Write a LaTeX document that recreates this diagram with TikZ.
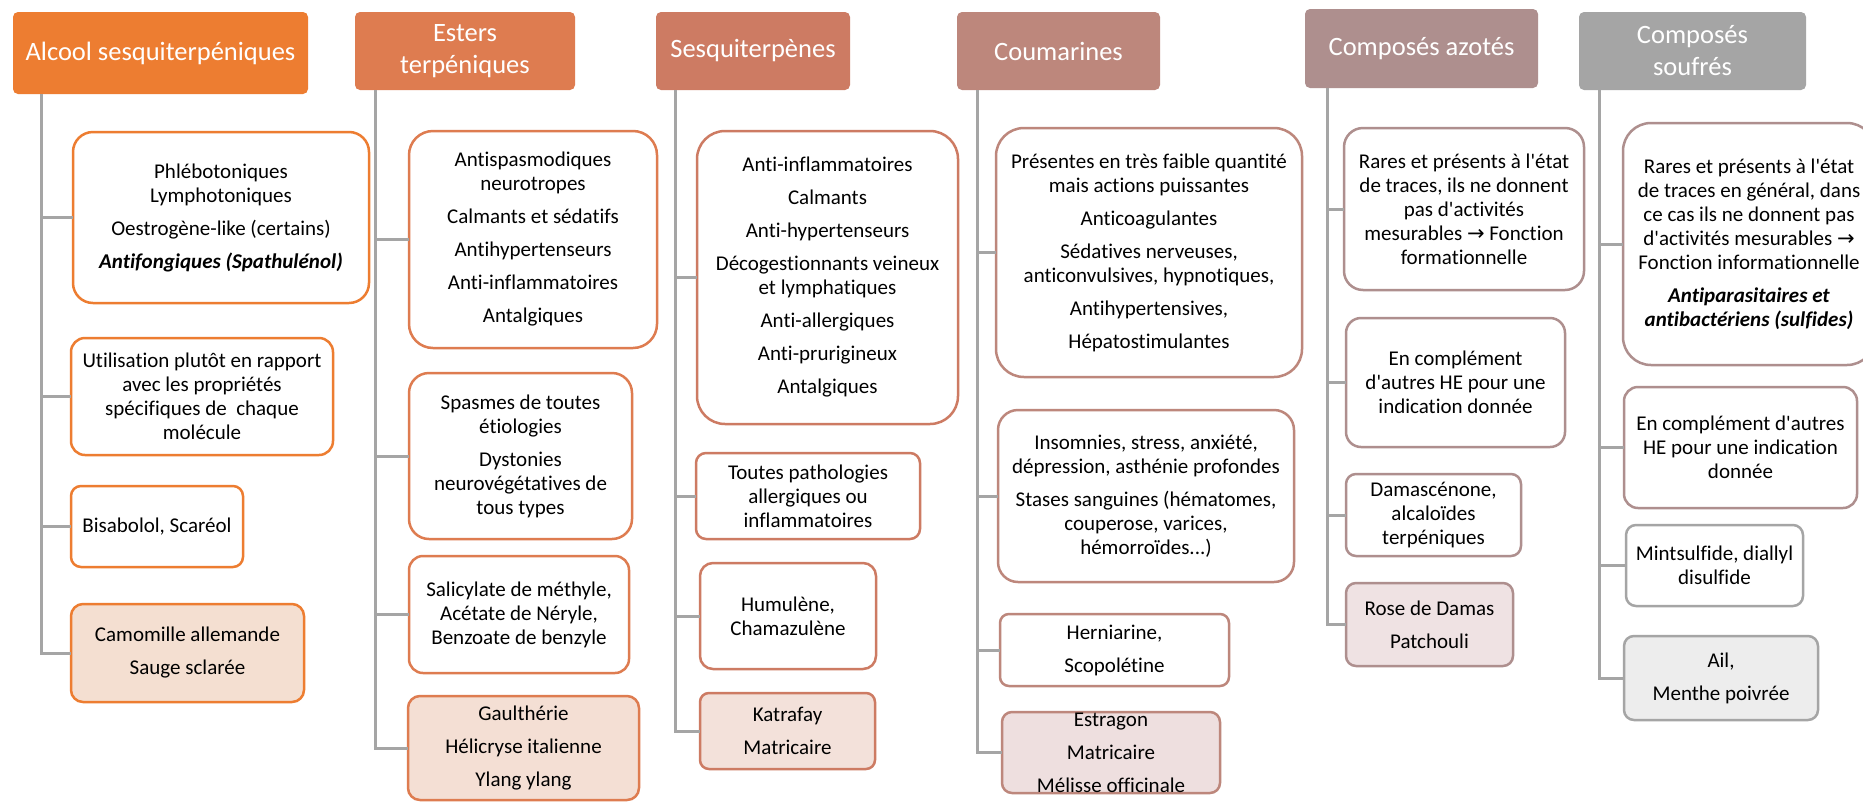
\documentclass[tikz,border=0pt]{standalone}
\usepackage{fontspec}
\newfontfamily\calib{Carlito}[Ligatures=CommonOff]
\newfontfamily\arw{DejaVu Sans}
\definecolor{cA}{HTML}{ED7D31}
\definecolor{cB}{HTML}{DE7C50}
\definecolor{cC}{HTML}{CD7B63}
\definecolor{cD}{HTML}{BD877C}
\definecolor{cE}{HTML}{AE8F8E}
\definecolor{cF}{HTML}{A5A5A5}
\definecolor{fA}{HTML}{F4DFD1}
\definecolor{fB}{HTML}{F4DFD4}
\definecolor{fC}{HTML}{F3E1DA}
\definecolor{fD}{HTML}{EEDFDF}
\definecolor{fE}{HTML}{EFE2E3}
\definecolor{fF}{HTML}{EDEDED}
\definecolor{linegray}{HTML}{A5A5A5}
\tikzset{
  hdr/.style={fill=#1, rounded corners=5pt, text=white, font=\calib\fontsize{26.5}{32}\selectfont, align=center, inner sep=0pt, outer sep=0pt},
  box/.style={draw=#1, line width=2.5pt, fill=white, align=center, inner sep=0pt, outer sep=0pt, font=\calib\fontsize{21}{24}\selectfont},
  txt/.style={align=center, inner sep=0pt, font=\calib\fontsize{21}{24}\selectfont},
  conn/.style={draw=linegray, line width=3pt},
  sz/.style 2 args={minimum width=#1pt, minimum height=#2pt},
}
\newcommand\ra{{\arw →}}
\newcommand\gp{\\[9pt]}
\begin{document}
\begin{tikzpicture}[x=1pt,y=-1pt]
\fill[white] (0,0) rectangle (1863,801);
\useasboundingbox (0,0) rectangle (1863,801);

% headers
\node[hdr=cA, sz={295}{82}] (h1) at (160.5,53) {Alcool sesquiterpéniques};
\node[hdr=cB, sz={220}{78}] (h2) at (465,51) {Esters\\terpéniques};
\node[hdr=cC, sz={194}{78}] (h3) at (753,51) {Sesquiterpènes};
\node[hdr=cD, sz={203}{78}] (h4) at (1058.5,51) {Coumarines};
\node[hdr=cE, sz={233}{79}] (h5) at (1421.5,48.5) {Composés azotés};
\node[hdr=cF, sz={227}{78}] (h6) at (1692.5,51) {Composés\\soufrés};

% column A
\node[box=cA, sz={296}{171}, rounded corners=20pt] (a1) at (221,217.5)
  {Phlébotoniques\\Lymphotoniques\gp Oestrogène-like (certains)\gp\textbf{\textit{Antifongiques (Spathulénol)}}};
\node[box=cA, sz={262}{117}, rounded corners=14pt] (a2) at (202,396.5)
  {Utilisation plutôt en rapport\\avec les propriétés\\spécifiques de\ \ chaque\\molécule};
\node[box=cA, sz={172}{81}, rounded corners=10pt] (a3) at (157,526.5) {Bisabolol, Scaréol};
\node[box=cA, fill=fA, sz={233}{98}, rounded corners=12pt] (a4) at (187.5,653)
  {Camomille allemande\gp Sauge sclarée};

% column B
\node[box=cB, sz={248}{217}, rounded corners=24pt] (b1) at (533,239.5)
  {Antispasmodiques\\neurotropes\gp Calmants et sédatifs\gp Antihypertenseurs\gp Anti-inflammatoires\gp Antalgiques};
\node[box=cB, sz={223}{166}, rounded corners=20pt] (b2) at (520.5,456)
  {Spasmes de toutes\\étiologies\gp Dystonies\\neurovégétatives de\\tous types};
\node[box=cB, sz={220}{117}, rounded corners=14pt] (b3) at (519,614.5)
  {Salicylate de méthyle,\\Acétate de Néryle,\\Benzoate de benzyle};
\node[box=cB, fill=fB, sz={231}{104}, rounded corners=12pt] (b4) at (523.5,748) {};
\node[txt] (b4t) at (b4.center) {Gaulthérie\gp Hélicryse italienne\gp Ylang ylang};

% column C
\node[box=cC, sz={261}{293}, rounded corners=28pt] (c1) at (827.5,277.5)
  {Anti-inflammatoires\gp Calmants\gp Anti-hypertenseurs\gp Décogestionnants veineux\\et lymphatiques\gp Anti-allergiques\gp Anti-prurigineux\gp Antalgiques};
\node[box=cC, sz={224}{86}, rounded corners=10pt] (c2) at (808,496)
  {Toutes pathologies\\allergiques ou\\inflammatoires};
\node[box=cC, sz={176}{106}, rounded corners=13pt] (c3) at (788,616) {Humulène,\\Chamazulène};
\node[box=cC, fill=fC, sz={175}{76}, rounded corners=9pt] (c4) at (787.5,731) {Katrafay\gp Matricaire};

% column D
\node[box=cD, sz={306}{249}, rounded corners=28pt] (d1) at (1149,252.5)
  {Présentes en très faible quantité\\mais actions puissantes\gp Anticoagulantes\gp Sédatives nerveuses,\\anticonvulsives, hypnotiques,\gp Antihypertensives,\gp Hépatostimulantes};
\node[box=cD, sz={296}{172}, rounded corners=20pt] (d2) at (1146,496) {};
\node[txt] (d2t) at (d2.center)
  {Insomnies, stress, anxiété,\\dépression, asthénie profondes\gp Stases sanguines (hématomes,\\couperose, varices,\\hémorroïdes...)};
\node[box=cD, sz={229}{72}, rounded corners=9pt] (d3) at (1114.5,650) {Herniarine,\gp Scopolétine};
\node[box=cD, fill=fD, sz={218}{81}, rounded corners=10pt] (d4) at (1111,752.5) {};
\node[txt] (d4t) at (d4.center) {Estragon\gp Matricaire\gp Mélisse officinale};

% column E
\node[box=cE, sz={240}{162}, rounded corners=19pt] (e1) at (1464,209)
  {Rares et présents à l'état\\de traces, ils ne donnent\\pas d'activités\\mesurables \ra{} Fonction\\formationnelle};
\node[box=cE, sz={219}{129}, rounded corners=15pt] (e2) at (1455.5,382.5)
  {En complément\\d'autres HE pour une\\indication donnée};
\node[box=cE, sz={175}{82}, rounded corners=10pt] (e3) at (1433.5,515)
  {Damascénone,\\alcaloïdes\\terpéniques};
\node[box=cE, fill=fE, sz={167}{83}, rounded corners=10pt] (e4) at (1429.5,624.5) {Rose de Damas\gp Patchouli};

% column F
\node[box=cE, sz={252}{242}, rounded corners=28pt] (f1) at (1749,244) {};
\node[txt] (f1t) at (f1.center)
  {Rares et présents à l'état\\de traces en général, dans\\ce cas ils ne donnent pas\\d'activités mesurables \ra\\Fonction informationnelle\gp\textbf{\textit{Antiparasitaires et}}\\\textbf{\textit{antibactériens (sulfides)}}};
\node[box=cE, sz={233}{121}, rounded corners=14pt] (f2) at (1740.5,447.5)
  {En complément d'autres\\HE pour une indication\\donnée};
\node[box=cF, sz={177}{81}, rounded corners=10pt] (f3) at (1714.5,565.5) {Mintsulfide, diallyl\\disulfide};
\node[box=cF, fill=fF, sz={194}{84}, rounded corners=10pt] (f4) at (1721,678) {Ail,\gp Menthe poivrée};

% connectors
\foreach \n in {a1,a2,a3,a4}{\draw[conn] ([xshift=28pt]h1.south west) |- (\n.west);}
\foreach \n in {b1,b2,b3,b4}{\draw[conn] ([xshift=20pt]h2.south west) |- (\n.west);}
\foreach \n in {c1,c2,c3,c4}{\draw[conn] ([xshift=19pt]h3.south west) |- (\n.west);}
\foreach \n in {d1,d2,d3,d4}{\draw[conn] ([xshift=20pt]h4.south west) |- (\n.west);}
\foreach \n in {e1,e2,e3,e4}{\draw[conn] ([xshift=22pt]h5.south west) |- (\n.west);}
\foreach \n in {f1,f2,f3,f4}{\draw[conn] ([xshift=20pt]h6.south west) |- (\n.west);}
\end{tikzpicture}
\end{document}
